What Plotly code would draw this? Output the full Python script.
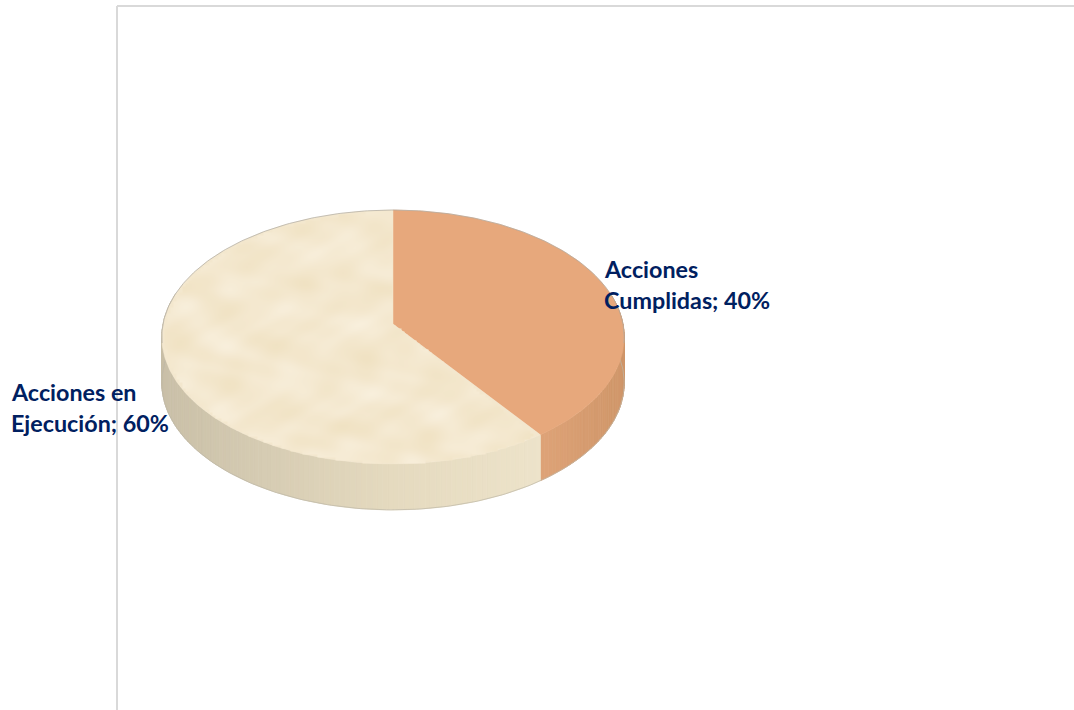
import numpy as np
import plotly.graph_objects as go

categories = ["Acciones Cumplidas", "Acciones en Ejecución"]
values = [40, 60]
label_lines = [["Acciones", "Cumplidas; 40%"], ["Acciones en", "Ejecución; 60%"]]
top_colors = ["#E7A87C", "#F3E7CE"]
side_stops = [
    [(0.0, "#D8A176"), (0.6, "#DDA277"), (1.0, "#CE9568")],
    [(-1.0, "#C8BEA6"), (-0.5, "#D6CCB3"), (0.0, "#E5DABF"), (0.6, "#EDE3CA")],
]
label_pos = [(605, 269), (12, 392)]
LINE_GAP = 31

CX, CY, A, B, K, DEPTH = 393.0, 324.0, 230.0, 125.6, 0.102, 46.0


def project(theta):
    u, v = np.sin(theta), np.cos(theta)
    w = 1 + K * v
    return CX + A * u / w, CY - B * v / w


def rgb(h):
    return np.array([int(h[i:i + 2], 16) for i in (1, 3, 5)], float)


def shade(stops, u):
    xs = [s[0] for s in stops]
    cols = np.array([rgb(s[1]) for s in stops])
    c = [np.interp(u, xs, cols[:, i]) for i in range(3)]
    return "rgb(%d,%d,%d)" % tuple(int(round(x)) for x in c)


fig = go.Figure()
common = dict(mode="lines", hoverinfo="skip", showlegend=False, fill="toself")

total = sum(values)
starts = np.cumsum([0] + values[:-1]) / total * 2 * np.pi
ends = np.cumsum(values) / total * 2 * np.pi

# sides: narrow strips following the rim, shaded by horizontal position
for i in range(len(values)):
    edges = np.linspace(starts[i], ends[i], int(values[i] * 3) + 1)
    for a, b in zip(edges[:-1], edges[1:]):
        mid = (a + b) / 2
        if np.cos(mid) > 0.25:
            continue
        xa, ya = project(a)
        xb, yb = project(b)
        col = shade(side_stops[i], np.sin(mid))
        fig.add_trace(go.Scatter(
            x=[xa, xb, xb, xa, xa],
            y=[ya, yb, yb + DEPTH, ya + DEPTH, ya],
            fillcolor=col, line=dict(color=col, width=0.8), **common))

# outline of the lower rim
th = np.linspace(np.pi / 2 - 0.1, 3 * np.pi / 2 + 0.1, 200)
xr, yr = project(th)
fig.add_trace(go.Scatter(x=xr, y=yr + DEPTH, mode="lines", hoverinfo="skip",
                         showlegend=False, line=dict(color="#BDB7A8", width=0.7)))

# top faces
for i in range(len(values)):
    th = np.linspace(starts[i], ends[i], 240)
    xs, ys = project(th)
    fig.add_trace(go.Scatter(
        x=np.r_[CX, xs, CX], y=np.r_[CY, ys, CY],
        fillcolor=top_colors[i], line=dict(color=top_colors[i], width=0.5), **common))

# parchment mottling on the cream face (a decorative, regular pattern of sines),
# on an overlaying axis pair so that it sits above the filled face
gx = np.arange(150, 640, 3.0)
gy = np.arange(200, 470, 3.0)
X, Y = np.meshgrid(gx, gy)
Yn = (CY - Y) / B
vv = Yn / (1 - K * Yn)
uu = (X - CX) / A * (1 + K * vv)
ang = np.mod(np.arctan2(uu, vv), 2 * np.pi)
inside = (uu ** 2 + vv ** 2 < 0.98) & (ang > starts[1] + 0.02) & (ang < ends[1] - 0.01)
tex = (np.sin(X / 17 + Y / 9 + 1.1 * np.sin(Y / 23)) +
       np.sin(X / 29 - Y / 11 + 1.3 * np.sin(X / 37)) +
       0.7 * np.sin(X / 7.3 + 2.1 * np.sin(Y / 13)) * np.sin(Y / 5.9 + X / 19) +
       0.6 * np.sin(X / 11 - Y / 6.7 + 1.7 * np.cos(X / 41 + Y / 17)))
tex = np.where(inside, tex, np.nan)
fig.add_trace(go.Heatmap(x=gx, y=gy, z=tex, zsmooth="best", showscale=False, hoverinfo="skip",
                         xaxis="x2", yaxis="y2",
                         colorscale=[[0, "#F0E2C3"], [0.5, "#F4E8CF"], [1, "#F8EFDC"]]))

# thin grey rim of the top face
th = np.linspace(-np.pi / 2 - 0.15, np.pi / 2 + 0.15, 240)
xr, yr = project(th)
fig.add_trace(go.Scatter(x=xr, y=yr, mode="lines", hoverinfo="skip", showlegend=False,
                         xaxis="x2", yaxis="y2", line=dict(color="#ADA9A0", width=0.7)))

for lines, (lx, ly) in zip(label_lines, label_pos):
    for j, line in enumerate(lines):
        fig.add_annotation(x=lx, y=ly + j * LINE_GAP, text=line, showarrow=False,
                           xanchor="left", yanchor="middle", align="left", xshift=-3,
                           font=dict(family="Lato", size=23.3, color="#002060", weight="bold"))

fig.update_layout(
    width=1074, height=710, margin=dict(l=0, r=0, t=0, b=0),
    paper_bgcolor="white", plot_bgcolor="white", showlegend=False,
    xaxis=dict(range=[0, 1074], visible=False, fixedrange=True),
    yaxis=dict(range=[710, 0], visible=False, fixedrange=True),
    xaxis2=dict(range=[0, 1074], visible=False, fixedrange=True, overlaying="x"),
    yaxis2=dict(range=[710, 0], visible=False, fixedrange=True, overlaying="y"),
    shapes=[
        dict(type="line", x0=117, x1=117, y0=6, y1=710, layer="below",
             line=dict(color="#D9D9D9", width=2)),
        dict(type="line", x0=117, x1=1074, y0=6, y1=6, layer="below",
             line=dict(color="#D9D9D9", width=2)),
    ],
)
fig.write_html("out.html", config={"displayModeBar": False},
               post_script="document.body.style.margin='0';document.documentElement.style.overflow='hidden';")
